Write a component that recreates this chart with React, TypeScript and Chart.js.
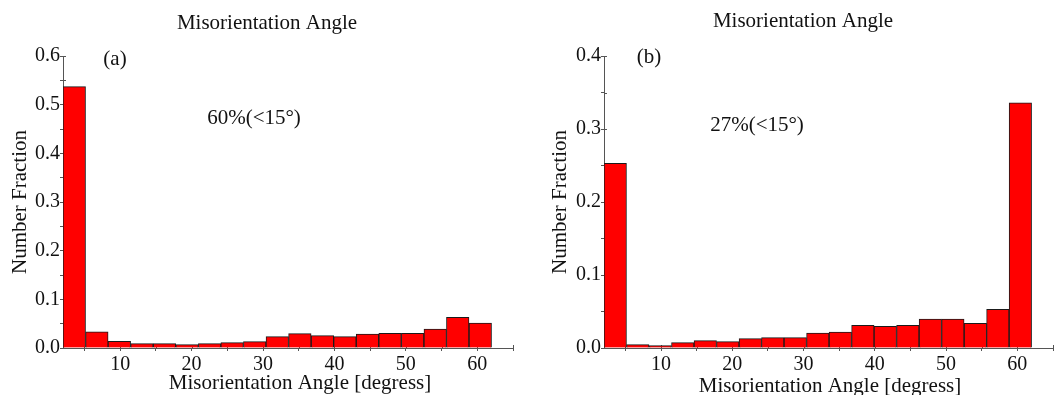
import React, { useEffect, useRef } from "react";
import { Chart, registerables } from "chart.js";

Chart.register(...registerables);

// ---- data ----
const binCenters = [3.58, 6.74, 9.89, 13.05, 16.21, 19.37, 22.53, 25.68, 28.84, 32.0, 35.16, 38.32, 41.47, 44.63, 47.79, 50.95, 54.11, 57.26, 60.42];
const fractionA = [0.537, 0.033, 0.0137, 0.0089, 0.0089, 0.0069, 0.0089, 0.011, 0.013, 0.0233, 0.0295, 0.0254, 0.0233, 0.0288, 0.0302, 0.0302, 0.039, 0.063, 0.0514];
const fractionB = [0.253, 0.0046, 0.0032, 0.0073, 0.010, 0.0087, 0.0128, 0.0142, 0.0142, 0.0205, 0.0219, 0.031, 0.0297, 0.031, 0.0397, 0.0397, 0.0338, 0.053, 0.336];
const xLabeledTicks = [10, 20, 30, 40, 50, 60];
const yMaxA = 0.6;
const yMaxB = 0.4;
const titleText = "Misorientation Angle";
const xTitleText = "Misorientation Angle [degress]";
const yTitleText = "Number Fraction";
const panelLabelA = "(a)";
const panelLabelB = "(b)";
const noteA = "60%(<15°)";
const noteB = "27%(<15°)";

const FONT = "'Liberation Serif', 'Times New Roman', Times, serif";
const AXIS = "#555";
const TEXT = "#111";

type Txt = { text: string; x: number; y: number; size: number };

function textPlugin(texts: Txt[]) {
  return {
    id: "texts",
    afterDraw(chart: any) {
      const ctx = chart.ctx;
      ctx.save();
      ctx.fillStyle = TEXT;
      ctx.textAlign = "center";
      ctx.textBaseline = "alphabetic";
      for (const t of texts) {
        ctx.font = `${t.size}px ${FONT}`;
        ctx.fillText(t.text, t.x, t.y);
      }
      ctx.restore();
    },
  };
}

const innerTicks = {
  id: "innerTicks",
  beforeDatasetsDraw(chart: any) {
    const { ctx, chartArea, scales } = chart;
    ctx.save();
    ctx.strokeStyle = AXIS;
    ctx.lineWidth = 1;
    ctx.beginPath();
    for (const t of scales.x.ticks) {
      const px = Math.round(scales.x.getPixelForValue(t.value)) + 0.5;
      ctx.moveTo(px, chartArea.bottom);
      ctx.lineTo(px, chartArea.bottom - 3);
    }
    for (const t of scales.y.ticks) {
      const py = Math.round(scales.y.getPixelForValue(t.value)) + 0.5;
      ctx.moveTo(chartArea.left, py);
      ctx.lineTo(chartArea.left + 3, py);
    }
    ctx.stroke();
    ctx.restore();
  },
};

type PanelProps = {
  values: number[];
  yMax: number;
  left: number;
  width: number;
  yAxisWidth: number;
  yTitlePad: number;
  padRight: number;
  texts: Txt[];
};

function Panel(p: PanelProps) {
  const ref = useRef<HTMLCanvasElement | null>(null);
  useEffect(() => {
    if (!ref.current) return;
    const chart = new Chart(ref.current, {
      type: "bar",
      data: {
        datasets: [
          {
            data: binCenters.map((x, i) => ({ x, y: p.values[i] })),
            backgroundColor: "#ff0000",
            borderColor: "#1a1a1a",
            borderWidth: 1,
            barPercentage: 1,
            categoryPercentage: 1,
          },
        ],
      },
      options: {
        animation: false,
        responsive: false,
        layout: { padding: { top: 56, left: 0, right: p.padRight, bottom: 0 } },
        plugins: { legend: { display: false }, tooltip: { enabled: false }, title: { display: false } },
        scales: {
          x: {
            type: "linear",
            min: 2,
            max: 65,
            offset: false,
            grid: { display: true, drawOnChartArea: false, offset: false, tickLength: 3, color: AXIS },
            border: { display: true, color: AXIS, width: 1 },
            ticks: {
              stepSize: 5,
              includeBounds: false,
              autoSkip: false,
              maxRotation: 0,
              padding: 2,
              color: TEXT,
              font: { family: FONT, size: 20 },
              callback: (v: any) => (xLabeledTicks.includes(Number(v)) ? String(v) : ""),
            },
            afterFit: (s: any) => {
              s.height = 47;
            },
          },
          y: {
            type: "linear",
            min: 0,
            max: p.yMax,
            grid: { display: true, drawOnChartArea: false, tickLength: 3, color: AXIS },
            border: { display: true, color: AXIS, width: 1 },
            ticks: {
              stepSize: 0.05,
              autoSkip: false,
              padding: 0,
              color: TEXT,
              font: { family: FONT, size: 20 },
              callback: (v: any) => (Math.round(Number(v) * 100) % 10 === 0 ? Number(v).toFixed(1) : ""),
            },
            title: {
              display: true,
              text: yTitleText,
              color: TEXT,
              font: { family: FONT, size: 21 },
              padding: { top: p.yTitlePad, bottom: 0 },
            },
            afterFit: (s: any) => {
              s.width = p.yAxisWidth;
            },
          },
        },
      },
      plugins: [innerTicks, textPlugin(p.texts)],
    } as any);
    return () => chart.destroy();
  }, []);
  return (
    <canvas
      ref={ref}
      width={p.width}
      height={395}
      style={{ position: "absolute", left: p.left, top: 0, width: p.width, height: 395 }}
    />
  );
}

export default function App() {
  return (
    <div style={{ position: "absolute", left: 0, top: 0, width: 1055, height: 395, background: "#fff", overflow: "hidden" }}>
      <Panel
        values={fractionA}
        yMax={yMaxA}
        left={0}
        width={527}
        yAxisWidth={63}
        yTitlePad={8}
        padRight={14}
        texts={[
          { text: titleText, x: 267, y: 29, size: 21 },
          { text: panelLabelA, x: 115, y: 65, size: 21 },
          { text: noteA, x: 254, y: 124, size: 21 },
          { text: xTitleText, x: 300, y: 389, size: 21 },
        ]}
      />
      <Panel
        values={fractionB}
        yMax={yMaxB}
        left={527}
        width={528}
        yAxisWidth={77}
        yTitlePad={21}
        padRight={0}
        texts={[
          { text: titleText, x: 276, y: 27, size: 21 },
          { text: panelLabelB, x: 122, y: 63, size: 21 },
          { text: noteB, x: 230, y: 131, size: 21 },
          { text: xTitleText, x: 303, y: 392, size: 21 },
        ]}
      />
    </div>
  );
}
